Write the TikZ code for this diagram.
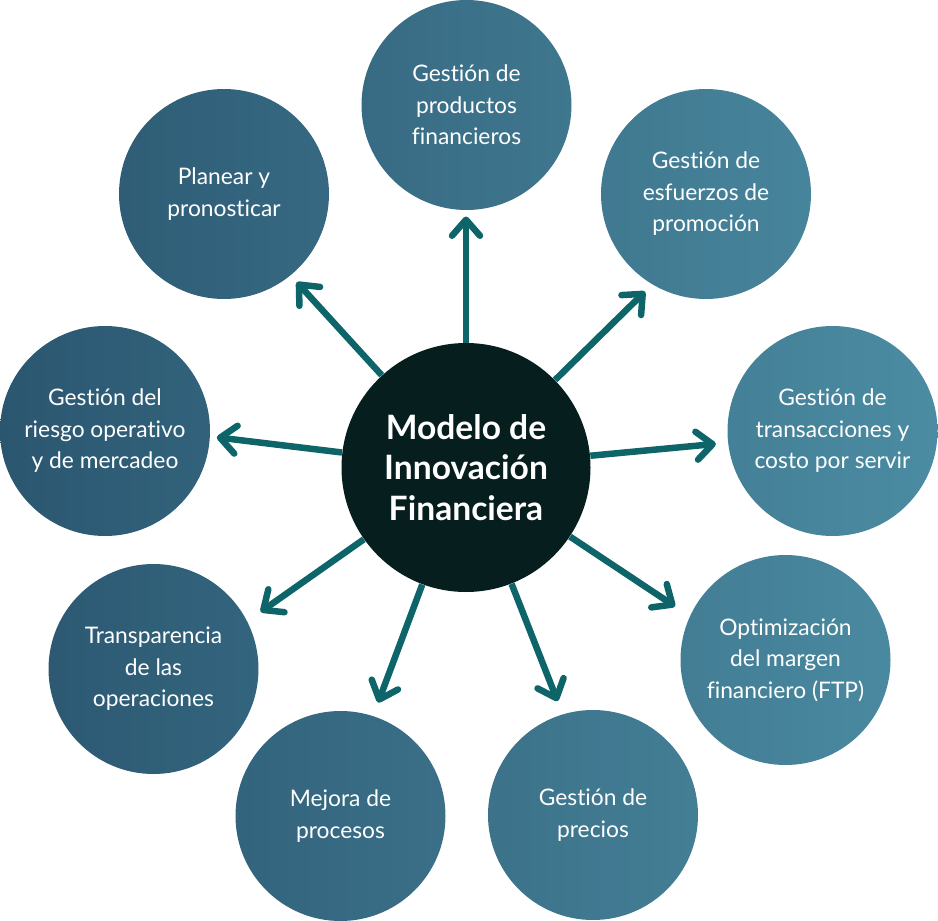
\documentclass[tikz,border=0pt]{standalone}
\usepackage{fontspec}
\setmainfont{Lato}[Ligatures=NoCommon]
\usetikzlibrary{arrows.meta, calc, backgrounds}
\definecolor{hubdark}{HTML}{071E1F}
\definecolor{arrowteal}{HTML}{0E6569}
\definecolor{topicleft}{HTML}{2B5670}
\definecolor{topicright}{HTML}{4B8CA2}

\begin{document}
\begin{tikzpicture}[
    x=0.5pt, y=-0.5pt,
    hub/.style={circle, fill=hubdark, minimum size=124.5pt, inner sep=0pt, align=center, text=white, font=\fontsize{16.8}{20.25}\selectfont\bfseries},
    topic/.style={circle, minimum size=105pt, inner sep=0pt, align=center, text=white, font=\fontsize{11.4}{15.75}\selectfont},
    arrow/.style={draw=arrowteal, line width=3.25pt, -{Straight Barb[length=8pt,width=14pt,round]}}
]
\useasboundingbox (0,0) rectangle (938,921);
% centre and topics
\node[hub] (mid) at (466,467.5) {Modelo de\\Innovación\\Financiera};
\node[topic] (prod) at (466.5,105) {Gestión de\\productos\\financieros};
\node[topic] (promo) at (706,194) {Gestión de\\esfuerzos de\\promoción};
\node[topic] (trans) at (832.5,431) {Gestión de\\transacciones y\\costo por servir};
\node[topic] (margen) at (785.5,660) {Optimización\\del margen\\financiero (FTP)};
\node[topic] (precios) at (593,815) {Gestión de\\precios};
\node[topic] (mejora) at (340.5,816) {Mejora de\\procesos};
\node[topic] (transp) at (153.5,669) {Transparencia\\de las\\operaciones};
\node[topic] (riesgo) at (105,431) {Gestión del\\riesgo operativo\\y de mercadeo};
\node[topic] (plan) at (224,194) {Planear y\\pronosticar};
% one shading over all topic circles
\begin{scope}[on background layer]
\shade[left color=topicleft, right color=topicright]
    (prod.center) circle[radius=52.5pt] (promo.center) circle[radius=52.5pt]
    (trans.center) circle[radius=52.5pt] (margen.center) circle[radius=52.5pt]
    (precios.center) circle[radius=52.5pt] (mejora.center) circle[radius=52.5pt]
    (transp.center) circle[radius=52.5pt] (riesgo.center) circle[radius=52.5pt]
    (plan.center) circle[radius=52.5pt];
\end{scope}
% arrow tips
\coordinate (tprod) at ($(mid)+(90:125.5pt)$);
\coordinate (tpromo) at ($(mid)+(44.5:125.5pt)$);
\coordinate (ttrans) at ($(mid)+(5.4:125.5pt)$);
\coordinate (tmargen) at ($(mid)+(326.4:125.5pt)$);
\coordinate (tprecios) at ($(mid)+(291.4:125.5pt)$);
\coordinate (tmejora) at ($(mid)+(249.5:125.5pt)$);
\coordinate (ttransp) at ($(mid)+(215.1:125.5pt)$);
\coordinate (triesgo) at ($(mid)+(173.1:125.5pt)$);
\coordinate (tplan) at ($(mid)+(132.4:125.5pt)$);
\draw[arrow] (mid) -- (tprod);
\draw[arrow] (mid) -- (tpromo);
\draw[arrow] (mid) -- (ttrans);
\draw[arrow] (mid) -- (tmargen);
\draw[arrow] (mid) -- (tprecios);
\draw[arrow] (mid) -- (tmejora);
\draw[arrow] (mid) -- (ttransp);
\draw[arrow] (mid) -- (triesgo);
\draw[arrow] (mid) -- (tplan);
\end{tikzpicture}
\end{document}
